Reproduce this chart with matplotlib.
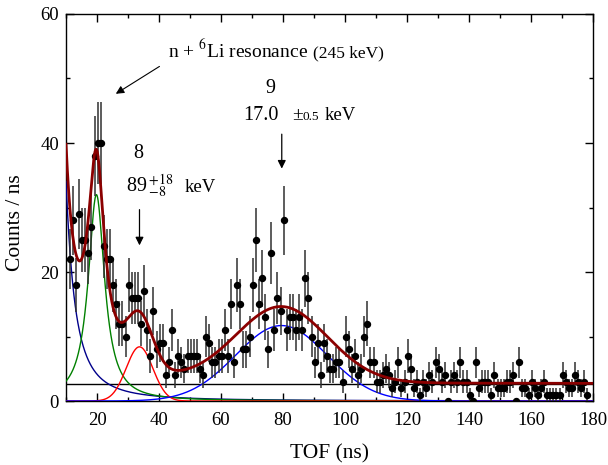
import numpy as np
import matplotlib
matplotlib.use("Agg")
import matplotlib.pyplot as plt
from matplotlib.ticker import MultipleLocator

plt.rcParams['font.family'] = ['Liberation Serif', 'DejaVu Serif']
plt.rcParams['mathtext.fontset'] = 'stix'

# TOF spectrum, 1 ns bins (counts / ns)
tof_start = 11.2
counts = [
    22, 28, 18, 29, 25, 25, 23, 27, 38, 40,   # 11-20
    40, 24, 22, 22, 18, 15, 12, 12, 10, 18,   # 21-30
    16, 16, 16, 12, 17, 11, 7, 14, 8, 9,      # 31-40
    9, 4, 6, 11, 4, 7, 6, 5, 7, 7,            # 41-50
    7, 7, 5, 4, 10, 9, 6, 6, 7, 7,            # 51-60
    11, 7, 15, 6, 18, 15, 8, 8, 10, 18,       # 61-70
    25, 15, 19, 13, 8, 23, 11, 16, 14, 28,    # 71-80
    11, 13, 13, 11, 13, 11, 19, 16, 10, 6,    # 81-90
    9, 4, 9, 7, 5, 5, 6, 6, 3, 10,            # 91-100
    8, 5, 7, 4, 5, 10, 12, 6, 6, 3,           # 101-110
    3, 4, 5, 4, 2, 3, 6, 2, 3, 7,             # 111-120
    5, 2, 3, 1, 3, 2, 4, 3, 6, 5,             # 121-130
    3, 4, 0, 3, 4, 3, 6, 3, 3, 1,             # 131-140
    0, 6, 2, 3, 3, 3, 1, 4, 2, 2,             # 141-150
    2, 3, 3, 4, 0, 6, 2, 2, 1, 3,             # 151-160
    2, 1, 2, 3, 1, 1, 1, 1, 1, 4,             # 161-170
    3, 2, 2, 4, 3, 2, 3, 1,                   # 171-178
]

# fit components
tail_amp, tail_pos, tail_width = 94.5, 6.0, 3.0       # low-TOF tail (Lorentzian)
li_amp, li_pos, li_width = 32.0, 19.8, 3.2            # n + 6Li resonance
s8_amp, s8_pos, s8_sigma = 8.4, 33.7, 4.3             # state 8
s9_amp, s9_pos, s9_sigma = 11.7, 79.5, 14.8           # state 9
background = 2.7

counts = np.array(counts, dtype=float)
tof = tof_start + np.arange(len(counts))
err = np.sqrt(counts)


def lorentz(x, a, x0, g):
    return a / (1 + ((x - x0) / g) ** 2)


def gauss(x, a, mu, s):
    return a * np.exp(-(x - mu) ** 2 / (2 * s ** 2))


t = np.linspace(10, 180, 1200)
c_tail = lorentz(t, tail_amp, tail_pos, tail_width)
c_li = lorentz(t, li_amp, li_pos, li_width)
c_s8 = gauss(t, s8_amp, s8_pos, s8_sigma)
c_s9 = gauss(t, s9_amp, s9_pos, s9_sigma)
c_total = c_tail + c_li + c_s8 + c_s9 + background

fig = plt.figure(figsize=(6.08, 4.65), dpi=100)
ax = fig.add_axes([0.1086, 0.1376, 0.8667, 0.8323])

ax.axhline(background, color='black', lw=1.0, zorder=2)
ax.plot(t, c_tail, color='#00008B', lw=1.0, zorder=3)
ax.plot(t, c_li, color='#008000', lw=1.0, zorder=3)
ax.plot(t, c_s8, color='#FF0000', lw=1.0, zorder=3)
ax.plot(t, c_s9, color='#0000FF', lw=1.0, zorder=3)

ax.errorbar(tof, counts, yerr=err, fmt='o', color='black', ms=4.3,
            ecolor='#303030', elinewidth=1.1, capsize=0, zorder=4)
ax.plot(t, c_total, color='#8B0000', lw=2.0, zorder=5)

ax.set_xlim(10, 180)
ax.set_ylim(0, 60)
ax.xaxis.set_major_locator(MultipleLocator(20))
ax.xaxis.set_minor_locator(MultipleLocator(10))
ax.yaxis.set_major_locator(MultipleLocator(20))
ax.yaxis.set_minor_locator(MultipleLocator(10))
ax.tick_params(which='both', direction='in', top=True, right=True, labelsize=13.5)
ax.tick_params(axis='x', which='major', pad=8)
ax.tick_params(axis='y', which='major', pad=5)
ax.tick_params(which='major', length=5.5, width=1.0)
ax.tick_params(which='minor', length=3.2, width=1.0)
for sp in ax.spines.values():
    sp.set_linewidth(1.0)

ax.set_xlabel('TOF (ns)', fontsize=15.5, labelpad=11)
ax.set_ylabel('Counts / ns', fontsize=15.5)
ax.yaxis.set_label_coords(-0.078, 0.46)

# annotations
ax.text(42.9, 53.3, r'n + $^{6}$Li resonance', fontsize=14, ha='left', va='baseline')
ax.text(89.7, 53.3, '(245 keV)', fontsize=12.5, ha='left', va='baseline')
ax.annotate('', xy=(25.3, 47.4), xytext=(40.9, 52.1),
            arrowprops=dict(arrowstyle='-|>', color='black', lw=0.8, mutation_scale=12))

ax.text(75.8, 47.7, '9', fontsize=14.5, ha='center', va='baseline')
ax.text(67.1, 43.5, '17.0', fontsize=14.5, ha='left', va='baseline')
ax.text(82.9, 43.5, '\u00b1', fontsize=14, ha='left', va='baseline')
ax.text(86.3, 43.5, '0.5', fontsize=9.5, ha='left', va='baseline')
ax.text(93.5, 43.5, 'keV', fontsize=13.5, ha='left', va='baseline')
ax.annotate('', xy=(79.6, 35.6), xytext=(79.6, 41.8),
            arrowprops=dict(arrowstyle='-|>', color='black', lw=0.9, mutation_scale=12))

ax.text(33.2, 37.7, '8', fontsize=14.5, ha='center', va='baseline')
ax.text(29.4, 32.4, r'89$\,^{+18}_{-8}$', fontsize=14.5, ha='left', va='baseline')
ax.text(48.2, 32.4, 'keV', fontsize=13.5, ha='left', va='baseline')
ax.annotate('', xy=(33.7, 23.7), xytext=(33.7, 30.1),
            arrowprops=dict(arrowstyle='-|>', color='black', lw=0.9, mutation_scale=12))

fig.savefig('out.png', dpi=100)
